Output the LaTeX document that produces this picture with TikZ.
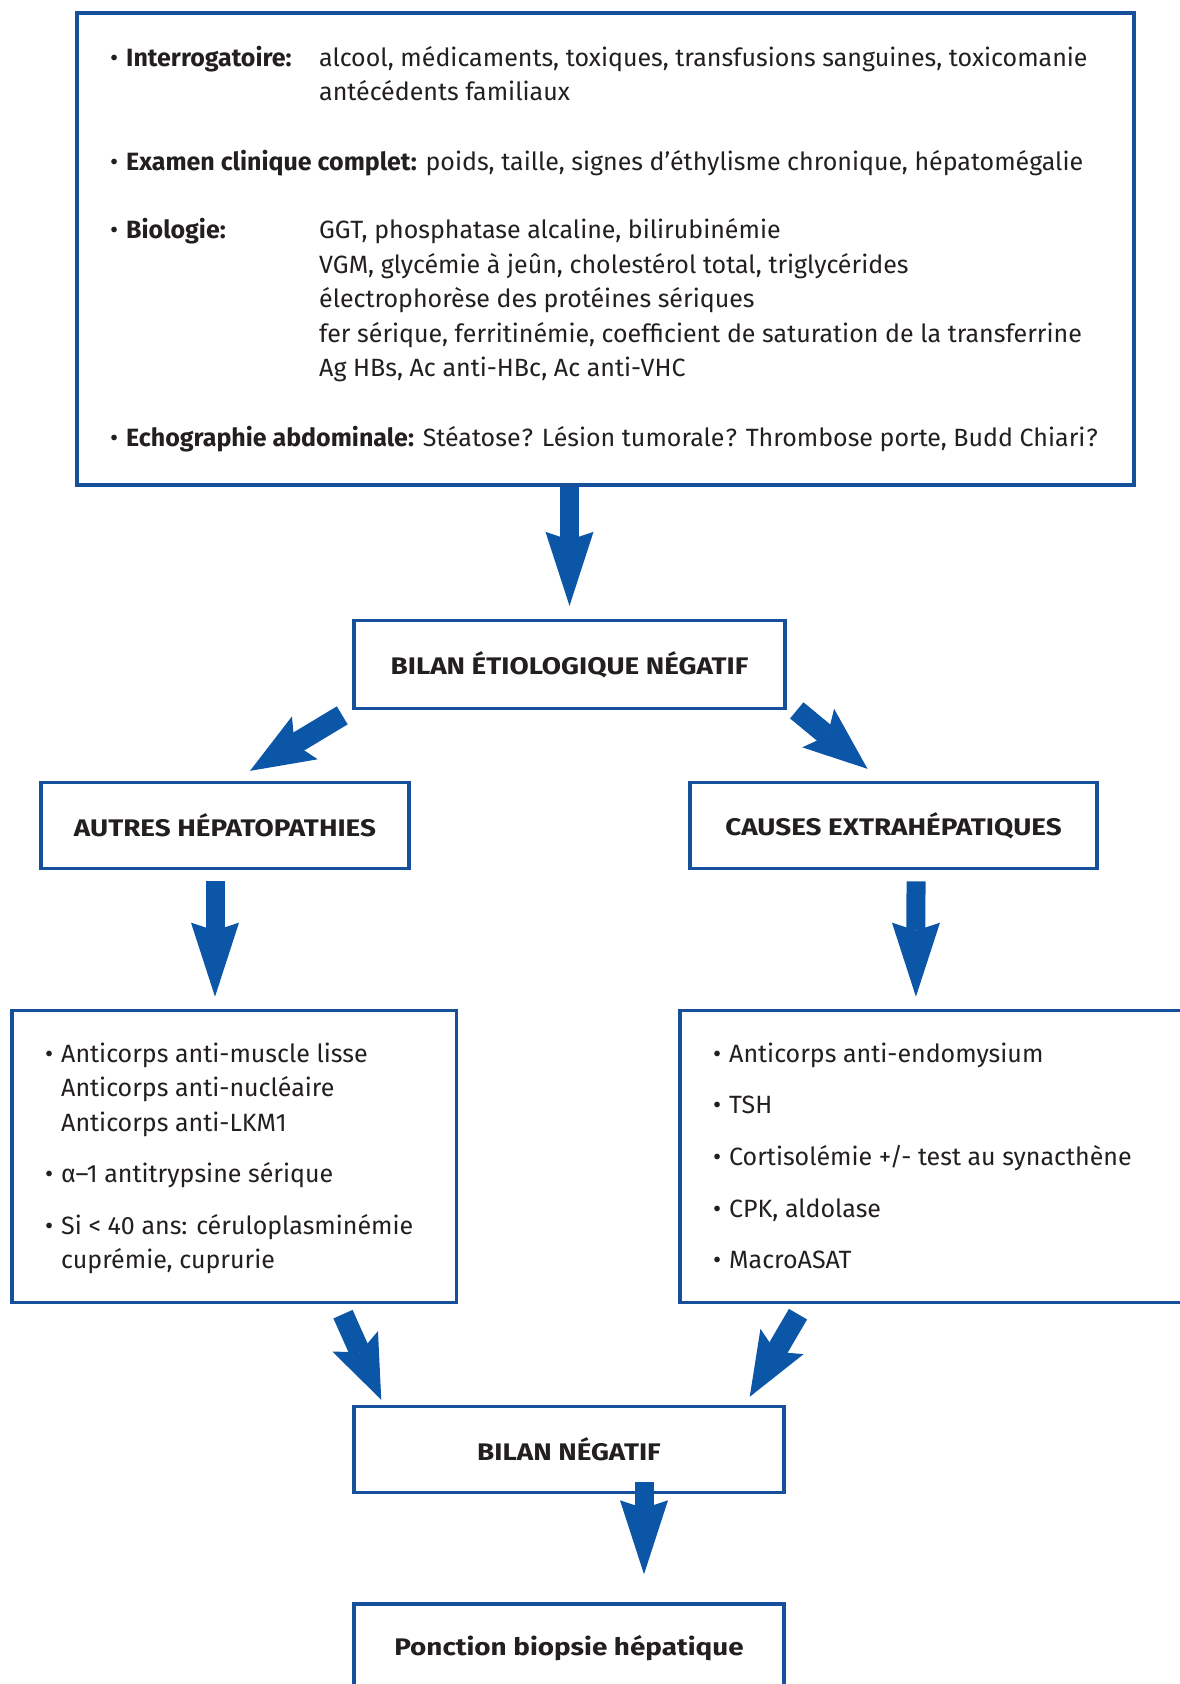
\documentclass[tikz,border=0pt]{standalone}
\usepackage{fontspec}
\setmainfont{Fira Sans}
\newfontfamily\ttlfont[FakeStretch=1.16]{Fira Sans}
\usetikzlibrary{arrows.meta,calc}
\definecolor{boxblue}{RGB}{22,80,155}
\definecolor{arrblue}{RGB}{12,86,168}
\definecolor{txt}{RGB}{35,31,32}
\newcommand{\bul}{\makebox[16pt][l]{•}}
\begin{document}
\begin{tikzpicture}[x=1pt,y=-1pt,
  box/.style={draw=boxblue, line width=3.5pt, fill=white, inner sep=0pt, text=txt},
  ttl/.style={font=\ttlfont\bfseries\fontsize{24}{28}\selectfont},
  tx/.style={anchor=base west, inner sep=0pt, text=txt, font=\fontsize{25}{30}\selectfont},
  barrow/.style={draw=arrblue, line width=19pt, -{Stealth[length=74pt,width=48pt,inset=8pt,line width=0pt]}},
  darrow/.style={draw=arrblue, line width=21pt, -{Stealth[length=64pt,width=50pt,inset=12pt,line width=0pt]}}
]
\useasboundingbox (0,0) rectangle (1180,1684);
\fill[white] (0,0) rectangle (1180,1684);

% boxes
\node[box, minimum width=1057, minimum height=472] (top) at (605.5,249) {};
\node[box, ttl, minimum width=431, minimum height=88] (etio) at (569.5,664.6) {BILAN ÉTIOLOGIQUE NÉGATIF};
\node[box, ttl, minimum width=368, minimum height=86] (autres) at (225,825.6) {AUTRES HÉPATOPATHIES};
\node[box, ttl, minimum width=407, minimum height=86] (causes) at (893.5,825.6) {CAUSES EXTRAHÉPATIQUES};
\node[box, minimum width=444.5, minimum height=292] (leftlist) at (234,1156.4) {};
\node[box, minimum width=504.3, minimum height=292] (rightlist) at (931.9,1156.4) {};
\node[box, ttl, minimum width=430, minimum height=86] (bneg) at (569,1449.5) {BILAN NÉGATIF};
\node[box, ttl, minimum width=430, minimum height=88] (ponction) at (569,1648) {Ponction biopsie hépatique};

% top box text
\node[tx] (t1a) at (110,66) {\bul\textbf{Interrogatoire:}};
\node[tx] (t1b) at (319,66) {alcool, médicaments, toxiques, transfusions sanguines, toxicomanie};
\node[tx] (t1c) at (319,100) {antécédents familiaux};
\node[tx] (t2) at (110,170) {\bul\textbf{Examen clinique complet:} poids, taille, signes d'éthylisme chronique, hépatomégalie};
\node[tx] (t3a) at (110,238) {\bul\textbf{Biologie:}};
\node[tx] (t3b) at (319,238) {GGT, phosphatase alcaline, bilirubinémie};
\node[tx] (t3c) at (319,273) {VGM, glycémie à jeûn, cholestérol total, triglycérides};
\node[tx] (t3d) at (319,307.5) {électrophorèse des protéines sériques};
\node[tx] (t3e) at (319,342) {fer sérique, ferritinémie, coefficient de saturation de la transferrine};
\node[tx] (t3f) at (319,376) {Ag HBs, Ac anti-HBc, Ac anti-VHC};
\node[tx] (t4) at (110,446) {\bul\textbf{Echographie abdominale:} Stéatose\kern1pt? Lésion tumorale\kern1pt? Thrombose porte, Budd Chiari\kern1pt?};

% left list
\node[tx] (l1) at (45,1062) {\bul Anticorps anti-muscle lisse};
\node[tx] (l2) at (61,1096.5) {Anticorps anti-nucléaire};
\node[tx] (l3) at (61,1131) {Anticorps anti-LKM1};
\node[tx] (l4) at (45,1182.5) {\bul α–1 antitrypsine sérique};
\node[tx] (l5) at (45,1234) {\bul Si < 40 ans: céruloplasminémie};
\node[tx] (l6) at (61,1268.4) {cuprémie, cuprurie};

% right list
\node[tx] (r1) at (713,1062) {\bul Anticorps anti-endomysium};
\node[tx] (r2) at (713,1113) {\bul TSH};
\node[tx] (r3) at (713,1165.4) {\bul Cortisolémie +/- test au synacthène};
\node[tx] (r4) at (713,1217) {\bul CPK, aldolase};
\node[tx] (r5) at (713,1268.4) {\bul MacroASAT};

% arrows
\draw[barrow] (top.south -| etio.north) -- ([shift={(0,-13)}]etio.north);
\draw[darrow] ([shift={(-10,5)}]etio.south west) -- ([shift={(25,-10)}]autres.north);
\draw[darrow] ([shift={(10,0)}]etio.south east) -- ([shift={(-26,-12)}]causes.north);
\draw[barrow] ([shift={(-10,11)}]autres.south) -- ([shift={(-19,-12)}]leftlist.north);
\draw[barrow] ([shift={(22.5,11)}]causes.south) -- ([shift={(-16,-12)}]rightlist.north);
\draw[darrow] ([shift={(-115,10)}]leftlist.south east) -- ([shift={(29,-5)}]bneg.north west);
\draw[darrow] ([shift={(120,10)}]rightlist.south west) -- ([shift={(-36,-8)}]bneg.north east);
\draw[barrow] ([shift={(75,-12)}]bneg.south) -- ([shift={(75,-28)}]ponction.north);
\end{tikzpicture}
\end{document}
